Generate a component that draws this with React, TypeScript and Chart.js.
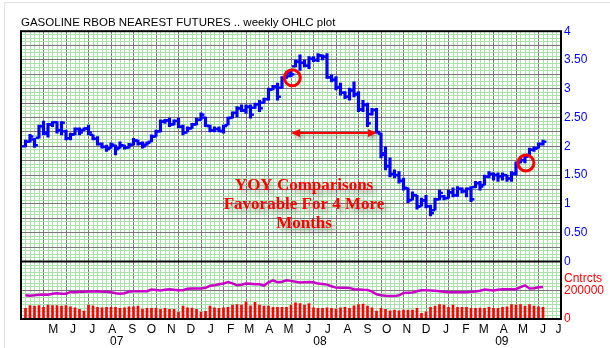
import React, { useEffect, useRef } from 'react';
import { Chart, registerables } from 'chart.js';

Chart.register(...registerables);

// ---------- data ----------
const firstBarDate = '2007-03-19';

const highs = [
  2.11, 2.21, 2.14, 2.37, 2.44, 2.40, 2.43, 2.43, 2.43, 2.28,
  2.23, 2.32, 2.32, 2.32, 2.37, 2.20, 2.17, 2.06, 2.02, 2.06,
  2.02, 2.08, 2.02, 2.05, 2.14, 2.11, 2.08, 2.08, 2.20, 2.28,
  2.46, 2.47, 2.49, 2.46, 2.49, 2.37, 2.34, 2.40, 2.49, 2.58,
  2.51, 2.37, 2.34, 2.34, 2.37, 2.51, 2.60, 2.69, 2.72, 2.72,
  2.72, 2.75, 2.80, 2.84, 3.01, 3.06, 3.10, 3.21, 3.30, 3.32,
  3.50, 3.59, 3.50, 3.56, 3.56, 3.61, 3.59, 3.61, 3.24, 3.21,
  3.10, 2.95, 3.01, 3.12, 2.95, 2.80, 2.75, 2.66, 2.66, 2.23,
  1.99, 1.80, 1.59, 1.56, 1.45, 1.28, 1.21, 1.15, 1.10, 1.15,
  0.98, 1.10, 1.24, 1.15, 1.24, 1.28, 1.30, 1.28, 1.28, 1.30,
  1.39, 1.39, 1.50, 1.56, 1.54, 1.54, 1.54, 1.50, 1.56, 1.73,
  1.80, 1.85, 1.97, 1.99, 2.06, 2.11,
];
const lows = [
  1.99, 2.07, 1.98, 2.14, 2.20, 2.16, 2.34, 2.23, 2.20, 2.11,
  2.11, 2.20, 2.20, 2.27, 2.20, 2.11, 2.02, 1.97, 1.91, 1.97,
  1.85, 1.97, 1.95, 1.97, 2.02, 2.02, 1.97, 2.02, 2.08, 2.17,
  2.25, 2.40, 2.34, 2.37, 2.32, 2.20, 2.25, 2.31, 2.37, 2.46,
  2.34, 2.25, 2.25, 2.25, 2.23, 2.37, 2.49, 2.51, 2.60, 2.57,
  2.49, 2.66, 2.60, 2.75, 2.80, 2.98, 2.80, 3.01, 3.18, 3.21,
  3.38, 3.32, 3.38, 3.35, 3.47, 3.47, 3.50, 3.18, 3.12, 2.98,
  2.89, 2.83, 2.80, 2.86, 2.60, 2.60, 2.34, 2.54, 2.23, 1.80,
  1.59, 1.47, 1.45, 1.36, 1.24, 1.02, 1.07, 0.91, 0.96, 0.93,
  0.79, 0.89, 1.07, 1.07, 1.10, 1.12, 1.13, 1.19, 1.12, 1.04,
  1.28, 1.24, 1.33, 1.45, 1.41, 1.39, 1.41, 1.39, 1.39, 1.50,
  1.71, 1.71, 1.85, 1.91, 1.97, 2.02,
];
const opens = [
  2.00, 2.08, 2.12, 2.15, 2.35, 2.22, 2.38, 2.42, 2.28, 2.26,
  2.14, 2.21, 2.30, 2.28, 2.31, 2.20, 2.13, 2.04, 1.99, 1.97,
  2.01, 1.97, 2.01, 1.98, 2.03, 2.10, 2.05, 2.03, 2.08, 2.17,
  2.26, 2.43, 2.45, 2.38, 2.44, 2.34, 2.24, 2.31, 2.38, 2.46,
  2.50, 2.35, 2.28, 2.30, 2.26, 2.37, 2.50, 2.58, 2.66, 2.62,
  2.68, 2.67, 2.73, 2.76, 2.82, 2.99, 3.04, 3.02, 3.19, 3.22,
  3.39, 3.47, 3.45, 3.40, 3.52, 3.50, 3.57, 3.56, 3.20, 3.16,
  3.03, 2.93, 2.86, 2.97, 2.91, 2.64, 2.72, 2.56, 2.63, 2.22,
  1.88, 1.66, 1.52, 1.50, 1.40, 1.27, 1.07, 1.15, 0.96, 1.06,
  0.96, 0.89, 1.08, 1.13, 1.10, 1.20, 1.15, 1.26, 1.22, 1.26,
  1.29, 1.36, 1.33, 1.47, 1.52, 1.50, 1.48, 1.50, 1.44, 1.53,
  1.72, 1.76, 1.85, 1.94, 1.97, 2.04,
];
const closes = [
  2.08, 2.17, 2.02, 2.35, 2.24, 2.38, 2.42, 2.28, 2.41, 2.14,
  2.20, 2.30, 2.24, 2.31, 2.24, 2.13, 2.04, 1.99, 1.95, 2.03,
  1.95, 2.02, 1.98, 2.02, 2.10, 2.05, 2.00, 2.06, 2.17, 2.26,
  2.43, 2.45, 2.38, 2.44, 2.34, 2.24, 2.31, 2.38, 2.46, 2.55,
  2.36, 2.28, 2.30, 2.27, 2.35, 2.49, 2.58, 2.66, 2.63, 2.69,
  2.55, 2.73, 2.66, 2.82, 2.98, 3.04, 2.86, 3.18, 3.27, 3.25,
  3.47, 3.45, 3.40, 3.52, 3.50, 3.58, 3.55, 3.20, 3.15, 3.02,
  2.93, 2.86, 2.97, 2.90, 2.64, 2.72, 2.40, 2.63, 2.25, 1.85,
  1.65, 1.52, 1.50, 1.40, 1.28, 1.06, 1.15, 0.95, 1.06, 0.96,
  0.84, 1.08, 1.19, 1.10, 1.20, 1.15, 1.26, 1.22, 1.26, 1.08,
  1.36, 1.30, 1.47, 1.52, 1.50, 1.48, 1.50, 1.44, 1.52, 1.70,
  1.76, 1.82, 1.94, 1.96, 2.04, 2.08,
];
const volume = [
  74000, 94000, 90000, 94000, 81000, 97000, 94000, 94000, 90000, 94000,
  85000, 78000, 67000, 55000, 97000, 92000, 81000, 78000, 81000, 81000,
  81000, 74000, 78000, 85000, 85000, 90000, 69000, 74000, 74000, 74000,
  67000, 74000, 67000, 67000, 48000, 90000, 78000, 76000, 67000, 48000,
  53000, 90000, 78000, 74000, 78000, 81000, 97000, 101000, 97000, 119000,
  92000, 115000, 97000, 90000, 90000, 81000, 81000, 81000, 81000, 97000,
  112000, 108000, 97000, 108000, 78000, 74000, 74000, 78000, 74000, 69000,
  78000, 81000, 74000, 92000, 101000, 103000, 90000, 78000, 55000, 74000,
  67000, 57000, 62000, 57000, 62000, 62000, 62000, 74000, 39000, 50000,
  81000, 90000, 101000, 97000, 81000, 97000, 81000, 81000, 81000, 74000,
  74000, 76000, 74000, 81000, 74000, 74000, 81000, 85000, 101000, 97000,
  101000, 90000, 101000, 90000, 85000, 81000,
];
const openInterest = [
  165000, 162000, 165000, 169000, 170000, 169000, 176000, 179000, 176000, 175000,
  188000, 186000, 190000, 190000, 191000, 191000, 193000, 190000, 190000, 186000,
  179000, 175000, 179000, 190000, 193000, 193000, 193000, 193000, 205000, 201000,
  198000, 203000, 207000, 203000, 200000, 200000, 210000, 212000, 212000, 212000,
  217000, 231000, 234000, 241000, 246000, 257000, 248000, 234000, 238000, 246000,
  245000, 241000, 241000, 232000, 255000, 269000, 255000, 259000, 269000, 265000,
  259000, 253000, 255000, 257000, 255000, 246000, 243000, 239000, 228000, 218000,
  217000, 217000, 216000, 207000, 205000, 203000, 202000, 190000, 172000, 165000,
  162000, 160000, 159000, 165000, 181000, 183000, 184000, 193000, 200000, 200000,
  198000, 196000, 193000, 190000, 186000, 186000, 186000, 186000, 186000, 190000,
  191000, 196000, 205000, 201000, 198000, 203000, 207000, 207000, 207000, 207000,
  221000, 234000, 212000, 214000, 221000, 223000,
];

const monthLabels = ['M', 'J', 'J', 'A', 'S', 'O', 'N', 'D', 'J', 'F', 'M', 'A', 'M', 'J', 'J', 'A', 'S', 'O', 'N', 'D', 'J', 'F', 'M', 'A', 'M', 'J', 'J'];
const monthDates = [
  '2007-05-01', '2007-06-01', '2007-07-01', '2007-08-01', '2007-09-01', '2007-10-01', '2007-11-01', '2007-12-01',
  '2008-01-01', '2008-02-01', '2008-03-01', '2008-04-01', '2008-05-01', '2008-06-01', '2008-07-01', '2008-08-01',
  '2008-09-01', '2008-10-01', '2008-11-01', '2008-12-01', '2009-01-01', '2009-02-01', '2009-03-01', '2009-04-01',
  '2009-05-01', '2009-06-01', '2009-06-25',
];
const yearLabels = ['07', '08', '09'];
const yearDates = ['2007-08-08', '2008-06-19', '2009-03-29'];

const priceLabelStep = 0.5;
const volumeLabels = [0, 200000];
const volumeUnitLabel = 'Cntrcts';
const volumeUnitValue = 283000;

const title = 'GASOLINE RBOB NEAREST FUTURES .. weekly OHLC plot';
const noteLines = ['YOY Comparisons', 'Favorable For 4 More', 'Months'];
const noteAnchor = { week: 61.9, price: 1.24 };
const arrowSpan = { from: 59.0, to: 78.1, price: 2.23 };
const circleMarks = [
  { week: 59.3, price: 3.19 },
  { week: 111.2, price: 1.71 },
];

// ---------- helpers ----------
const DAY = 86400000;
const weekOf = (d: string) => (Date.parse(d) - Date.parse(firstBarDate)) / (7 * DAY);
const monthWeeks = monthDates.map(weekOf);
const yearWeeks = yearDates.map(weekOf);

const X_MIN = -1;
const X_MAX = 119;
const FONT = '"Liberation Sans", Arial, Helvetica, sans-serif';
const MINOR = '#a8e2a8';
const MAJOR = '#777777';

const overlay = {
  id: 'overlay',
  afterDatasetsDraw(chart: any) {
    const ctx = chart.ctx as CanvasRenderingContext2D;
    const xs = chart.scales.x;
    const ys = chart.scales.y;
    const y2 = chart.scales.y2;
    const area = chart.chartArea;

    // OHLC open / close ticks
    ctx.save();
    ctx.fillStyle = '#0000ff';
    for (let i = 0; i < opens.length; i++) {
      const x = xs.getPixelForValue(i);
      const yo = ys.getPixelForValue(opens[i]);
      const yc = ys.getPixelForValue(closes[i]);
      ctx.fillRect(x - 3.4, yo - 1.2, 3.4, 2.4);
      ctx.fillRect(x, yc - 1.2, 3.4, 2.4);
    }
    ctx.restore();

    // arrow
    ctx.save();
    const ax1 = xs.getPixelForValue(arrowSpan.from);
    const ax2 = xs.getPixelForValue(arrowSpan.to);
    const ay = ys.getPixelForValue(arrowSpan.price);
    ctx.shadowColor = 'rgba(0,0,0,0.3)';
    ctx.shadowBlur = 4;
    ctx.shadowOffsetX = 2;
    ctx.shadowOffsetY = 3;
    ctx.strokeStyle = '#ff0000';
    ctx.fillStyle = '#ff0000';
    ctx.lineWidth = 2;
    ctx.beginPath();
    ctx.moveTo(ax1 + 6, ay);
    ctx.lineTo(ax2 - 6, ay);
    ctx.stroke();
    ctx.beginPath();
    ctx.moveTo(ax1, ay);
    ctx.lineTo(ax1 + 9, ay - 4);
    ctx.lineTo(ax1 + 9, ay + 4);
    ctx.closePath();
    ctx.fill();
    ctx.beginPath();
    ctx.moveTo(ax2, ay);
    ctx.lineTo(ax2 - 9, ay - 4);
    ctx.lineTo(ax2 - 9, ay + 4);
    ctx.closePath();
    ctx.fill();
    ctx.restore();

    // note text
    ctx.save();
    ctx.font = 'bold 17px "Liberation Serif", "Times New Roman", serif';
    ctx.textAlign = 'center';
    ctx.textBaseline = 'alphabetic';
    ctx.fillStyle = '#ff0000';
    ctx.shadowColor = 'rgba(0,0,0,0.4)';
    ctx.shadowBlur = 6;
    ctx.shadowOffsetX = 4;
    ctx.shadowOffsetY = 4;
    const tx = xs.getPixelForValue(noteAnchor.week);
    const ty = ys.getPixelForValue(noteAnchor.price);
    noteLines.forEach((line, k) => ctx.fillText(line, tx, ty + k * 19.2));
    ctx.restore();

    // circles
    ctx.save();
    ctx.strokeStyle = '#ff0000';
    ctx.lineWidth = 3;
    circleMarks.forEach((c) => {
      ctx.beginPath();
      ctx.arc(xs.getPixelForValue(c.week), ys.getPixelForValue(c.price), 8, 0, Math.PI * 2);
      ctx.stroke();
    });
    ctx.restore();

    // frame + panel divider
    ctx.save();
    ctx.strokeStyle = '#000';
    ctx.lineWidth = 2;
    ctx.strokeRect(area.left, area.top, area.right - area.left, area.bottom - area.top);
    ctx.beginPath();
    ctx.moveTo(area.left, y2.top);
    ctx.lineTo(area.right, y2.top);
    ctx.stroke();
    ctx.restore();
  },
};

export default function App() {
  const ref = useRef<HTMLCanvasElement>(null);

  useEffect(() => {
    if (!ref.current) return;
    const idx = highs.map((_, i) => i);
    const chart = new Chart(ref.current, {
      type: 'bar',
      data: {
        datasets: [
          {
            type: 'bar',
            label: 'High-Low',
            xAxisID: 'x',
            yAxisID: 'y',
            data: idx.map((i) => ({ x: i, y: [lows[i], highs[i]] })) as any,
            backgroundColor: '#0000ff',
            borderWidth: 0,
            barThickness: 2.5,
            grouped: false,
          } as any,
          {
            type: 'line',
            label: 'Open interest',
            xAxisID: 'x',
            yAxisID: 'y2',
            data: idx.map((i) => ({ x: i, y: openInterest[i] })),
            borderColor: '#c800c8',
            borderWidth: 2.5,
            pointRadius: 0,
            tension: 0,
            fill: false,
          } as any,
          {
            type: 'bar',
            label: 'Volume',
            xAxisID: 'x',
            yAxisID: 'y2',
            data: idx.map((i) => ({ x: i, y: volume[i] })),
            backgroundColor: '#ff0000',
            borderWidth: 0,
            barThickness: 2,
            grouped: false,
          } as any,
        ],
      },
      options: {
        responsive: false,
        animation: false,
        devicePixelRatio: 1,
        layout: { padding: { left: 21, right: 0, top: 0, bottom: 0 } },
        plugins: {
          legend: { display: false },
          tooltip: { enabled: false },
          title: {
            display: true,
            text: title,
            align: 'start',
            color: '#000',
            font: { family: FONT, size: 11.5, weight: 'normal' },
            padding: { top: 16, bottom: 1.4 },
          },
        },
        scales: {
          x: {
            type: 'linear',
            position: 'bottom',
            min: X_MIN,
            max: X_MAX,
            offset: false,
            grid: {
              offset: false,
              drawTicks: false,
              color: (c: any) => ((Math.round(c.tick.value) - X_MIN) % 5 === 0 ? MAJOR : MINOR),
            },
            border: { display: false },
            ticks: { display: false },
            afterBuildTicks: (s: any) => {
              const t = [];
              for (let v = X_MIN; v <= X_MAX; v++) t.push({ value: v });
              s.ticks = t;
            },
            afterFit: (s: any) => { s.height = 0; },
          },
          x2: {
            type: 'linear',
            position: 'bottom',
            min: X_MIN,
            max: X_MAX,
            offset: false,
            grid: { display: false, drawTicks: false, offset: false },
            border: { display: false },
            afterBuildTicks: (s: any) => { s.ticks = monthWeeks.map((v) => ({ value: v })); },
            ticks: {
              autoSkip: false,
              maxRotation: 0,
              padding: 3,
              color: '#000',
              font: { family: FONT, size: 12 },
              callback: (_v: any, i: number) => monthLabels[i],
            },
            afterFit: (s: any) => { s.height = 14; },
          },
          x3: {
            type: 'linear',
            position: 'bottom',
            min: X_MIN,
            max: X_MAX,
            offset: false,
            grid: { display: false, drawTicks: false, offset: false },
            border: { display: false },
            afterBuildTicks: (s: any) => { s.ticks = yearWeeks.map((v) => ({ value: v })); },
            ticks: {
              autoSkip: false,
              maxRotation: 0,
              padding: 1,
              color: '#000',
              font: { family: FONT, size: 12 },
              callback: (_v: any, i: number) => yearLabels[i],
            },
            afterFit: (s: any) => { s.height = 15; },
          },
          y: {
            type: 'linear',
            position: 'right',
            stack: 'panels',
            stackWeight: 4,
            min: 0,
            max: 4,
            grid: {
              drawTicks: false,
              color: (c: any) => (Math.abs((c.tick.value * 4) - Math.round(c.tick.value * 4)) < 1e-6 ? MAJOR : MINOR),
            },
            border: { display: false },
            afterBuildTicks: (s: any) => {
              const t = [];
              for (let k = 0; k <= 64; k++) t.push({ value: k * 0.0625 });
              s.ticks = t;
            },
            ticks: {
              autoSkip: false,
              padding: 3,
              color: '#0000ff',
              font: { family: FONT, size: 12 },
              callback: (v: any) => {
                const n = Number(v);
                const q = n / priceLabelStep;
                if (Math.abs(q - Math.round(q)) > 1e-6) return '';
                return Number.isInteger(n) ? String(n) : n.toFixed(2);
              },
            },
            afterFit: (s: any) => { s.width = 49; },
          },
          y2: {
            type: 'linear',
            position: 'right',
            stack: 'panels',
            stackWeight: 1,
            min: 0,
            max: 400000,
            grid: {
              drawTicks: false,
              color: (c: any) => {
                const v = c.tick.value;
                if (v === volumeUnitValue) return 'rgba(0,0,0,0)';
                return v === 200000 ? MAJOR : MINOR;
              },
            },
            border: { display: false },
            afterBuildTicks: (s: any) => {
              const t = [];
              for (let k = 0; k <= 16; k++) t.push({ value: k * 25000 });
              t.push({ value: volumeUnitValue });
              t.sort((a, b) => a.value - b.value);
              s.ticks = t;
            },
            ticks: {
              autoSkip: false,
              padding: 3,
              color: '#ff0000',
              font: { family: FONT, size: 12 },
              callback: (v: any) => {
                const n = Number(v);
                if (n === volumeUnitValue) return volumeUnitLabel;
                return volumeLabels.includes(n) ? String(n) : '';
              },
            },
            afterFit: (s: any) => { s.width = 49; },
          },
        } as any,
      },
      plugins: [overlay],
    } as any);
    return () => chart.destroy();
  }, []);

  return (
    <div style={{ position: 'fixed', left: 0, top: 0, width: 610, height: 348, background: '#fff' }}>
      <div
        style={{
          position: 'absolute', left: 4, top: 2, right: 0, bottom: 0,
          borderLeft: '1px solid #e2e2e2', borderTop: '1px solid #e2e2e2',
        }}
      />
      <canvas
        ref={ref}
        width={610}
        height={348}
        style={{ position: 'absolute', left: 0, top: 0, width: 610, height: 348 }}
      />
    </div>
  );
}
